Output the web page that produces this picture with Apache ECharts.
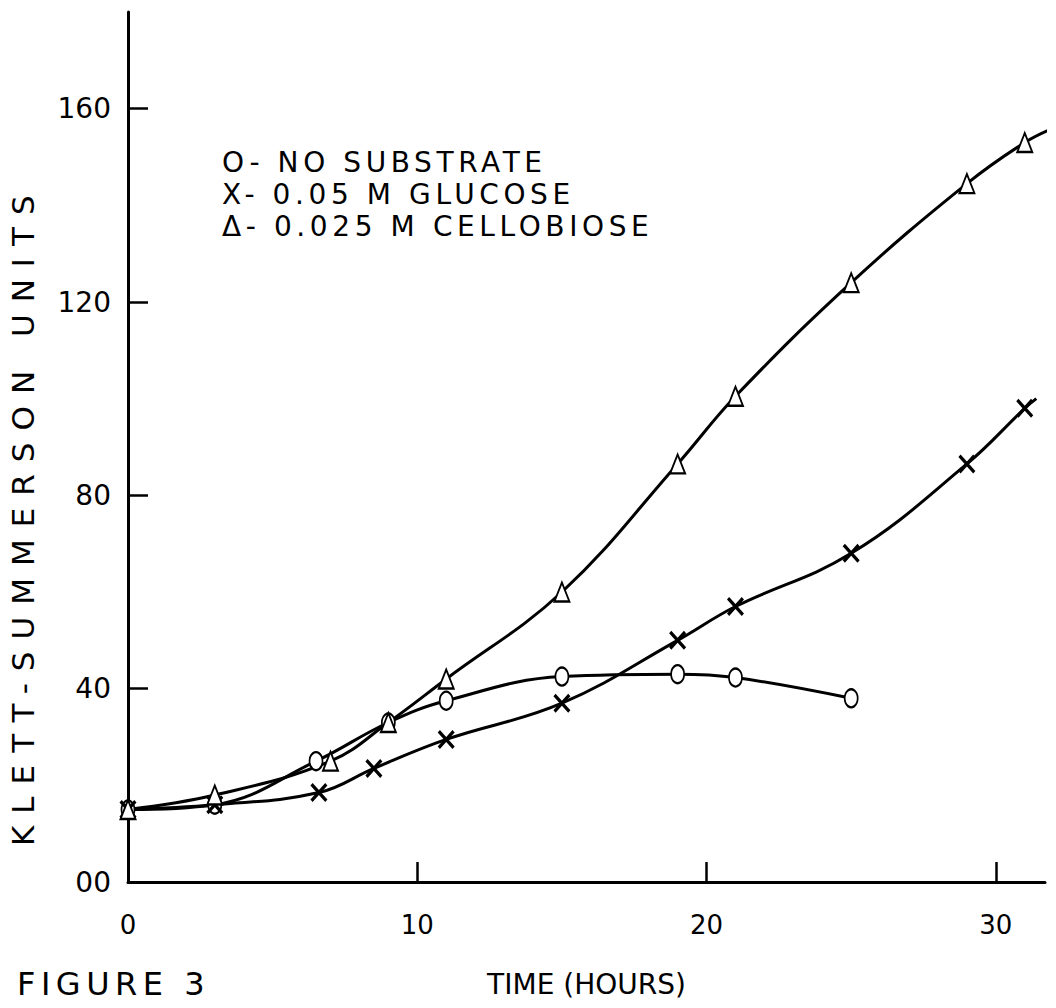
<!DOCTYPE html>
<html>
<head>
<meta charset="utf-8">
<script src="https://cdn.jsdelivr.net/npm/echarts@6/dist/echarts.min.js"></script>
<style>html,body{margin:0;padding:0;background:#fff}#c{width:1056px;height:1008px}</style>
</head>
<body>
<div id="c"></div>
<script>
// ---- data ----
const seriesNames = ['NO SUBSTRATE', '0.05 M GLUCOSE', '0.025 M CELLOBIOSE'];
const legendPrefix = ['O- ', 'X- ', 'Δ- '];

const noSubHours   = [0, 3, 6.5, 9, 11, 15, 19, 21, 25];
const noSubValues  = [15, 16, 25, 33, 37.5, 42.5, 43, 42.3, 38];

const glucoseHours  = [0, 3, 6.6, 8.5, 11, 15, 19, 21, 25, 29, 31];
const glucoseValues = [15, 16, 18.5, 23.5, 29.5, 37, 50, 57, 68, 86.5, 98];
const glucoseCurveEnd = [31.4, 100];   // where the drawn curve stops

const cellHours  = [0, 3, 7, 9, 11, 15, 19, 21, 25, 29, 31];
const cellValues = [15, 18, 25, 33, 42, 60, 86.5, 100.5, 124, 144.5, 153];
const cellCurveEnd = [32, 156];        // where the drawn curve stops

const xTicks = [0, 10, 20, 30];
const yTicks = [0, 40, 80, 120, 160];
const yTickLabels = ['00', '40', '80', '120', '160'];

const yAxisTitle = 'KLETT-SUMMERSON UNITS';
const xAxisTitle = 'TIME (HOURS)';
const figureTitle = 'FIGURE 3';

const pairs = (xs, ys) => xs.map((x, i) => [x, ys[i]]);
const withEnd = (pts, end) => pts.concat([{value: end, symbol: 'none'}]);
const FONT = 'DejaVu Sans';
const xSym = 'path://M0,1.3L1.3,0L10,8.7L8.7,10ZM8.7,0L10,1.3L1.3,10L0,8.7Z';

const chart = echarts.init(document.getElementById('c'), null, {renderer: 'svg'});
const lineStyle = {color: '#000', width: 3};
chart.setOption({
  backgroundColor: '#fff',
  animation: false,
  grid: {left: 128, right: 11, top: 12, bottom: 126},
  legend: {
    data: seriesNames,
    orient: 'vertical',
    left: 212, top: 143,
    icon: 'none', itemWidth: 0, itemHeight: 28, itemGap: 4,
    formatter: n => legendPrefix[seriesNames.indexOf(n)] + n,
    textStyle: {fontFamily: FONT, fontSize: 28, color: '#000'},
    selectedMode: false
  },
  xAxis: {
    type: 'value', min: 0, max: 31.7,
    name: xAxisTitle, nameLocation: 'middle', nameGap: 88,
    nameTextStyle: {fontFamily: FONT, fontSize: 28, color: '#000'},
    axisLine: {show: true, lineStyle: {color: '#000', width: 3}},
    axisTick: {show: true, inside: true, length: 20, customValues: xTicks, lineStyle: {color: '#000', width: 2.5}},
    axisLabel: {customValues: xTicks, margin: 30, fontFamily: FONT, fontSize: 26, color: '#000'},
    splitLine: {show: false}
  },
  yAxis: {
    type: 'value', min: 0, max: 180,
    axisLine: {show: true, lineStyle: {color: '#000', width: 3}},
    axisTick: {show: true, inside: true, length: 20, customValues: yTicks, lineStyle: {color: '#000', width: 2.5}},
    axisLabel: {customValues: yTicks, margin: 17, fontFamily: FONT, fontSize: 28, color: '#000',
      formatter: v => yTickLabels[yTicks.indexOf(v)]},
    splitLine: {show: false}
  },
  graphic: [
    {type: 'text', x: 23, y: 846, rotation: Math.PI / 2,
     style: {text: yAxisTitle, fontFamily: FONT, fontSize: 31, fill: '#000',
             align: 'left', verticalAlign: 'middle', textAlign: 'left', textVerticalAlign: 'middle'}},
    {type: 'text', x: 17, y: 984,
     style: {text: figureTitle, fontFamily: FONT, fontSize: 32, fill: '#000',
             align: 'left', verticalAlign: 'middle', textAlign: 'left', textVerticalAlign: 'middle'}}
  ],
  series: [
    {name: seriesNames[0], type: 'line', smooth: 0.4, data: pairs(noSubHours, noSubValues),
     symbol: 'emptyCircle', symbolSize: [13, 18], lineStyle,
     itemStyle: {color: '#000', borderColor: '#000', borderWidth: 2.5}, z: 3},
    {name: seriesNames[1], type: 'line', smooth: 0.4,
     data: withEnd(pairs(glucoseHours, glucoseValues), glucoseCurveEnd),
     symbol: xSym, symbolSize: [17, 19], lineStyle,
     itemStyle: {color: '#000', borderColor: '#000', borderWidth: 0}, z: 3},
    {name: seriesNames[2], type: 'line', smooth: 0.4,
     data: withEnd(pairs(cellHours, cellValues), cellCurveEnd),
     symbol: 'emptyTriangle', symbolSize: [15, 19], lineStyle,
     itemStyle: {color: '#000', borderColor: '#000', borderWidth: 2.5}, z: 3}
  ]
});

// widen the hand-lettered texts, which are letter-spaced in the original
const spacing = {};
spacing[yAxisTitle] = '12px';
spacing[figureTitle] = '5.5px';
seriesNames.forEach((n, i) => { spacing[legendPrefix[i] + n] = '4.6px'; });
function spaceTexts() {
  document.querySelectorAll('#c text').forEach(t => {
    const s = spacing[t.textContent];
    if (s) t.style.letterSpacing = s;
  });
}
spaceTexts();
chart.on('finished', spaceTexts);
</script>
</body>
</html>
